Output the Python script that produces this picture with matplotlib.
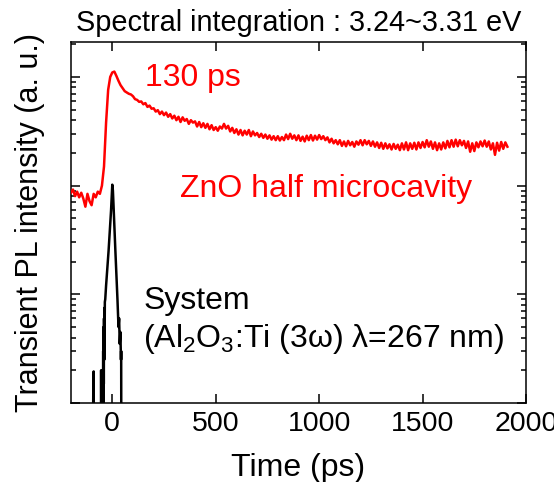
import numpy as np
import matplotlib
matplotlib.use("Agg")
import matplotlib.pyplot as plt
from matplotlib.ticker import LogLocator, NullFormatter

plt.rcParams['font.family'] = ['Liberation Sans', 'DejaVu Sans']
plt.rcParams['mathtext.fontset'] = 'custom'
plt.rcParams['mathtext.rm'] = 'Liberation Sans'

# --- ZnO half microcavity transient PL (red), 10 ps steps from -200 ps ---
t_zno = np.arange(-200, 1911, 10)
pl_zno = [
    86, 92, 80, 88, 78, 86, 76, 64, 84, 72,
    66, 84, 78, 88, 84, 100, 150, 380, 760, 1000,
    1100, 1120, 1020, 920, 840, 790, 740, 720, 700, 690,
    665, 625, 615, 590, 595, 560, 575, 530, 545, 510,
    515, 480, 495, 455, 480, 445, 470, 430, 455, 415,
    440, 400, 430, 385, 425, 395, 410, 370, 400, 380,
    390, 350, 385, 345, 375, 340, 370, 330, 360, 325,
    345, 320, 350, 335, 370, 335, 355, 315, 340, 305,
    330, 295, 325, 290, 320, 295, 325, 285, 315, 290,
    305, 280, 300, 275, 295, 270, 290, 265, 285, 262,
    285, 260, 280, 262, 295, 268, 300, 270, 290, 262,
    290, 258, 282, 255, 288, 262, 292, 260, 288, 265,
    292, 268, 285, 262, 278, 250, 270, 245, 262, 240,
    262, 232, 255, 230, 258, 235, 252, 228, 255, 238,
    262, 235, 262, 240, 258, 232, 255, 228, 250, 222,
    248, 218, 245, 220, 240, 215, 242, 218, 238, 212,
    245, 215, 250, 212, 245, 218, 248, 215, 250, 222,
    252, 225, 262, 228, 255, 218, 250, 212, 245, 215,
    250, 220, 258, 225, 262, 228, 265, 230, 262, 235,
    258, 222, 255, 205, 245, 208, 250, 225, 255, 230,
    260, 228, 255, 215, 245, 192, 248, 210, 252, 218,
    250, 228,
]

# --- System response (black); 0.1 = below the axis floor ---
t_sys = [-200, -96, -92, -90, -88, -84,
         -56, -54, -52, -50, -48, -46, -44, -43, -42, -41, -40, -39, -38,
         -37, -36, -34, -30, -18, -6, 0, 3, 7, 15, 25, 30, 33, 36, 39, 42,
         43, 44, 50, 200]
pl_sys = [0.1, 0.1, 1.2, 1.95, 0.1, 0.1,
          0.1, 2.0, 0.3, 1.8, 0.1, 0.1, 3.0, 0.5, 5.0, 1.5, 6.0, 2.5, 7.5,
          4.0, 8.5, 9.0, 12, 25, 59, 102, 90, 59, 25, 9, 5, 6, 3.5, 4.5, 2.5,
          3.0, 0.1, 0.1, 0.1]

x_ticks = [0, 500, 1000, 1500, 2000]

fig = plt.figure(figsize=(5.54, 4.82), dpi=100)
ax = fig.add_axes([0.128, 0.164, 0.8215, 0.749])

ax.plot(t_sys, pl_sys, color='black', lw=1.8, zorder=2)
ax.plot(t_zno, pl_zno, color='#ff0000', lw=1.8, zorder=3)

ax.set_yscale('log')
ax.set_xlim(-200, 2000)
ax.set_ylim(1, 2100)
ax.set_xticks(x_ticks)
ax.yaxis.set_major_locator(LogLocator(base=10))
ax.yaxis.set_minor_locator(LogLocator(base=10, subs=np.arange(2, 10)))
ax.yaxis.set_major_formatter(NullFormatter())
ax.yaxis.set_minor_formatter(NullFormatter())

ax.tick_params(axis='both', which='both', direction='in',
               top=True, right=True, width=1.1)
ax.tick_params(axis='both', which='major', length=6.5)
ax.tick_params(axis='both', which='minor', length=3.5)
ax.tick_params(axis='x', labelsize=20.5, pad=6)
for s in ax.spines.values():
    s.set_linewidth(1.1)

ax.set_xlabel('Time (ps)', fontsize=23, labelpad=11)
ax.set_ylabel('Transient PL intensity (a. u.)', fontsize=22, labelpad=15)
ax.set_title('Spectral integration : 3.24~3.31 eV', fontsize=20.8, pad=8)

ax.text(160, 980, '130 ps', color='#ff0000', fontsize=23, va='center')
ax.text(328, 94, 'ZnO half microcavity', color='#ff0000', fontsize=23,
        va='center')
ax.text(150, 8.6, 'System', color='black', fontsize=23, va='center')
ax.text(150, 3.9, r'(Al$_2$O$_3$:Ti (3ω) λ=267 nm)', color='black',
        fontsize=23, va='center')

fig.savefig('out.png', dpi=100)
